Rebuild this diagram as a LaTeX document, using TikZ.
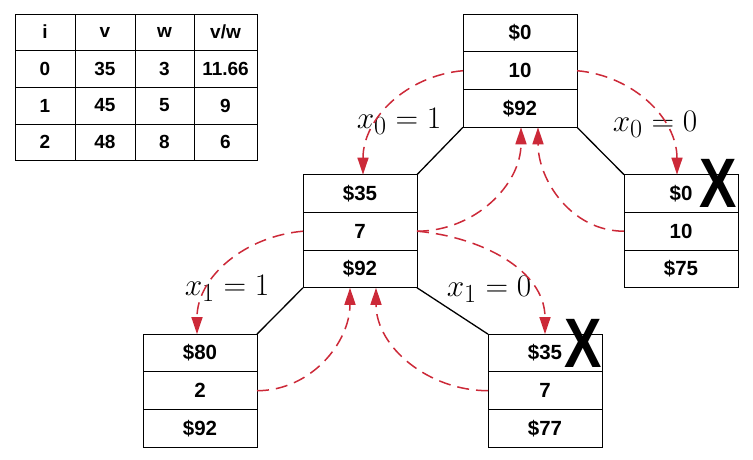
\documentclass[tikz,border=0pt]{standalone}
\usepackage{amsmath}
\usepackage{fontspec}
\setsansfont{Liberation Sans}
\usetikzlibrary{arrows.meta,positioning}
\definecolor{dashred}{RGB}{204,41,56}

\tikzset{
  cell/.style={draw,line width=1pt,minimum width=114pt,minimum height=37.7pt,
    inner sep=0pt,outer sep=0pt,font=\fontsize{20.5}{24}\selectfont\sffamily\bfseries},
  tab/.style={inner sep=0pt,font=\fontsize{19}{22}\selectfont\sffamily\bfseries},
  branch/.style={line width=1.3pt},
  back/.style={dashred,line width=1.5pt,dash pattern=on 12pt off 7pt,
    -{Triangle[length=17pt,width=11pt]}},
  cut/.style={inner sep=0pt,xscale=0.8,font=\fontsize{70}{70}\selectfont\sffamily\bfseries},
  choice/.style={inner sep=0pt,font=\Huge,scale=1.26}
}

\begin{document}
\begin{tikzpicture}[x=1pt,y=-1pt]
  \useasboundingbox (0,0) rectangle (753,459);
  %
  % table of items
  \draw[line width=1pt] (15,14) rectangle (257,160);
  \foreach \xx in {75,135,194}
    \draw[line width=1pt] (\xx,14) -- (\xx,160);
  \foreach \yy in {50,87,124}
    \draw[line width=1pt] (15,\yy) -- (257,\yy);
  \node[tab] (hi) at (45,32) {i};
  \node[tab] (hv) at (105,32) {v};
  \node[tab] (hw) at (164.5,32) {w};
  \node[tab] (hr) at (225.5,32) {v/w};
  \foreach \ty/\ii/\vv/\ww/\rr in {68.5/0/35/3/11.66, 105.5/1/45/5/9, 142/2/48/8/6}{
    \node[tab] (i\ii) at (45,\ty) {\ii};
    \node[tab] (v\ii) at (105,\ty) {\vv};
    \node[tab] (w\ii) at (164.5,\ty) {\ww};
    \node[tab] (r\ii) at (225.5,\ty) {\rr};
  }
  %
  % root
  \node[cell] (top1) at (520,33) {\$0};
  \node[cell,below=0pt of top1] (top2) {10};
  \node[cell,below=0pt of top2] (top3) {\$92};
  % level 1
  \node[cell] (mid1) at (360,193.5) {\$35};
  \node[cell,below=0pt of mid1] (mid2) {7};
  \node[cell,below=0pt of mid2] (mid3) {\$92};
  \node[cell] (rgt1) at (681,193.5) {\$0};
  \node[cell,below=0pt of rgt1] (rgt2) {10};
  \node[cell,below=0pt of rgt2] (rgt3) {\$75};
  % level 2
  \node[cell] (lft1) at (200,353) {\$80};
  \node[cell,below=0pt of lft1] (lft2) {2};
  \node[cell,below=0pt of lft2] (lft3) {\$92};
  \node[cell] (bot1) at (545,353) {\$35};
  \node[cell,below=0pt of bot1] (bot2) {7};
  \node[cell,below=0pt of bot2] (bot3) {\$77};
  %
  % branches
  \draw[branch] (top3.south west) -- (mid1.north east);
  \draw[branch] (top3.south east) -- (rgt1.north west);
  \draw[branch] (mid3.south west) -- (lft1.north east);
  \draw[branch] (mid3.south east) -- (bot1.north west);
  %
  % pruned nodes
  \node[cut] (xrgt) at (718,183) {X};
  \node[cut] (xbot) at (583,343) {X};
  %
  % decisions
  \node[choice] (c01) at (399,121) {$x_0 = 1$};
  \node[choice] (c00) at (655,124) {$x_0 = 0$};
  \node[choice] (c11) at (227,288) {$x_1 = 1$};
  \node[choice] (c10) at (489,289) {$x_1 = 0$};
  %
  % search order
  \draw[back] (top2.west) to[out=185,in=90] ([xshift=3pt]mid1.north);
  \draw[back] (top2.east) to[out=-5,in=90] ([xshift=-4pt]rgt1.north);
  \draw[back] (mid2.east) to[out=0,in=-90] ([xshift=1pt]top3.south);
  \draw[back] (rgt2.west) to[out=180,in=-90] ([xshift=18pt]top3.south);
  \draw[back] (mid2.west) to[out=185,in=90] ([xshift=-3pt]lft1.north);
  \draw[back] (mid2.east) to[out=-5,in=90] (bot1.north);
  \draw[back] (lft2.east) to[out=0,in=-90] ([xshift=-10pt]mid3.south);
  \draw[back] (bot2.west) to[out=180,in=-90] ([xshift=16pt]mid3.south);
\end{tikzpicture}
\end{document}
